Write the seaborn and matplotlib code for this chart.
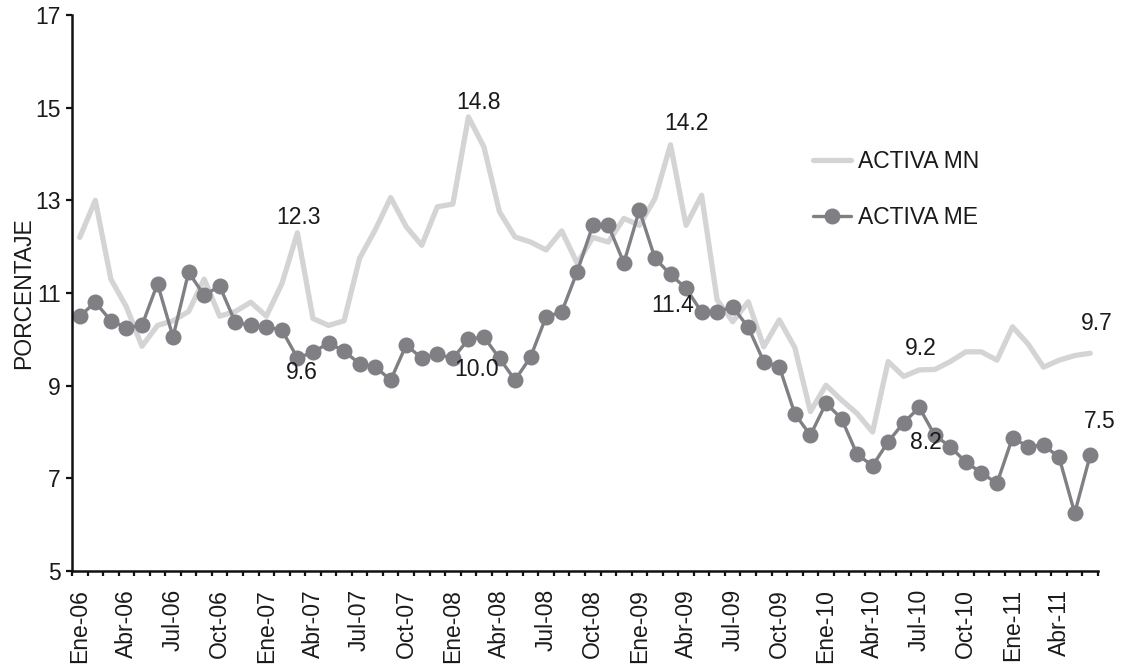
import numpy as np
import pandas as pd
import matplotlib
matplotlib.use("Agg")
import matplotlib.pyplot as plt
from matplotlib.ticker import FixedLocator
import seaborn as sns

# Monthly periods, January 2006 through June 2011
meses = ["Ene", "Feb", "Mar", "Abr", "May", "Jun", "Jul", "Ago", "Sep", "Oct", "Nov", "Dic"]
anios = ["06", "07", "08", "09", "10", "11"]
periodos = [f"{m}-{a}" for a in anios for m in meses][:66]

# Active interest rate, national currency (%)
activa_mn = [
    12.2, 13.0, 11.3, 10.7, 9.85, 10.3, 10.4, 10.6, 11.3, 10.5, 10.6, 10.8,
    10.5, 11.2, 12.3, 10.45, 10.3, 10.4, 11.75, 12.36, 13.06, 12.43, 12.03, 12.86,
    12.92, 14.8, 14.15, 12.75, 12.21, 12.1, 11.93, 12.34, 11.64, 12.2, 12.1, 12.61,
    12.46, 13.04, 14.2, 12.46, 13.11, 10.85, 10.38, 10.81, 9.84, 10.42, 9.82, 8.44,
    9.01, 8.69, 8.4, 8.0, 9.52, 9.2, 9.34, 9.35, 9.52, 9.73, 9.73, 9.55,
    10.27, 9.9, 9.4, 9.55, 9.65, 9.7,
]

# Active interest rate, foreign currency (%)
activa_me = [
    10.5, 10.8, 10.4, 10.25, 10.3, 11.2, 10.05, 11.45, 10.95, 11.15, 10.37, 10.3,
    10.27, 10.2, 9.6, 9.72, 9.92, 9.75, 9.47, 9.41, 9.12, 9.88, 9.59, 9.68,
    9.59, 10.0, 10.05, 9.59, 9.12, 9.62, 10.49, 10.59, 11.46, 12.46, 12.46, 11.65,
    12.79, 11.75, 11.4, 11.1, 10.59, 10.59, 10.7, 10.26, 9.52, 9.41, 8.39, 7.93,
    8.62, 8.29, 7.52, 7.27, 7.79, 8.2, 8.53, 7.93, 7.68, 7.35, 7.12, 6.89,
    7.88, 7.68, 7.72, 7.45, 6.25, 7.5,
]

series_names = ["ACTIVA MN", "ACTIVA ME"]
y_ticks = [5, 7, 9, 11, 13, 15, 17]

# (series, period index, pixel offset of the value label)
etiquetas = [
    ("mn", 14, (1, 15)), ("me", 14, (4, -15)),
    ("mn", 25, (10, 14)), ("me", 25, (8, -30)),
    ("mn", 38, (16, 21)), ("me", 38, (2, -31)),
    ("mn", 53, (17, 28)), ("me", 53, (22, -20)),
    ("mn", 65, (7, 30)), ("me", 65, (10, 34)),
]

sns.set_style("white")
plt.rcParams["font.family"] = ["Liberation Sans", "DejaVu Sans"]

txt = "#1a1a1a"
col_mn = "#d4d4d4"
col_me = "#7f7f84"
fs = 16.5

df = pd.DataFrame({"idx": np.arange(len(periodos)), "mn": activa_mn, "me": activa_me})

fig = plt.figure(figsize=(11.21, 6.70), dpi=100)
ax = fig.add_axes([72 / 1121, 1 - 571 / 670, (1098 - 72) / 1121, (571 - 15) / 670])

sns.lineplot(data=df, x="idx", y="mn", ax=ax, color=col_mn, linewidth=3.8,
             label=series_names[0])
sns.lineplot(data=df, x="idx", y="me", ax=ax, color=col_me, linewidth=2.4,
             marker="o", markersize=11.5, markeredgewidth=0,
             label=series_names[1])

for serie, i, (dx, dy) in etiquetas:
    vals = activa_mn if serie == "mn" else activa_me
    v = vals[i]
    ax.annotate(f"{v:.1f}", xy=(i, v), xytext=(dx, dy), textcoords="offset pixels",
                ha="center", va="center", fontsize=fs, color=txt)

ax.set_xlim(-0.5, len(periodos) - 0.5)
ax.set_ylim(5, 17)
ax.set_yticks(y_ticks)
ax.set_yticklabels([str(t) for t in y_ticks])

major_pos = list(range(0, len(periodos), 3))
ax.xaxis.set_major_locator(FixedLocator(major_pos))
ax.set_xticklabels([periodos[i] for i in major_pos], rotation=90)
ax.xaxis.set_minor_locator(FixedLocator(np.arange(-0.5, len(periodos), 1.0)))

ax.tick_params(axis="x", which="major", length=0, pad=13, labelsize=fs, labelcolor=txt)
ax.tick_params(axis="x", which="minor", length=3.8, width=1.6, direction="out",
               color="#111111", bottom=True)
ax.tick_params(axis="y", which="major", length=4, width=1.6, direction="out",
               pad=4, labelsize=fs, labelcolor=txt, color="#111111", left=True)

for side in ["top", "right"]:
    ax.spines[side].set_visible(False)
for side in ["left", "bottom"]:
    ax.spines[side].set_color("#111111")
    ax.spines[side].set_linewidth(1.8)

ax.set_xlabel("")
ax.set_ylabel("PORCENTAJE", fontsize=fs, color=txt)
ax.yaxis.set_label_coords(-0.036, 0.5)

leg = ax.legend(loc="upper left", bbox_to_anchor=(813 / 1121, 1 - 150 / 670),
                bbox_transform=fig.transFigure, frameon=False, fontsize=fs,
                borderpad=0, borderaxespad=0, handlelength=1.65, handletextpad=0.3,
                labelspacing=1.45)
for t in leg.get_texts():
    t.set_color(txt)

fig.savefig("out.png", dpi=100)
